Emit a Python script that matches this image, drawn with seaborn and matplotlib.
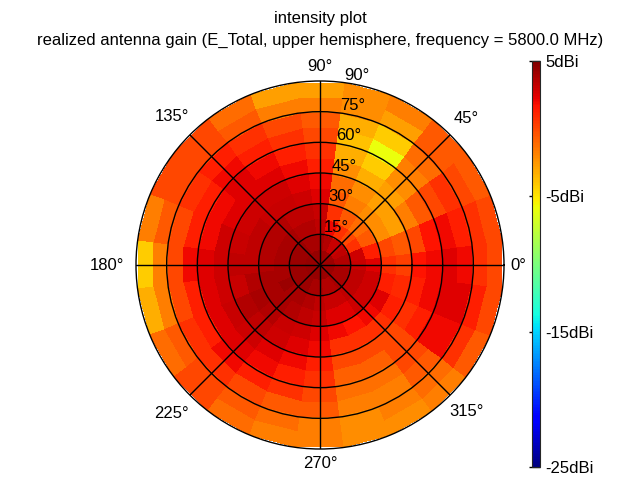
import numpy as np
import matplotlib
matplotlib.use("Agg")
import matplotlib.pyplot as plt
import seaborn as sns

# azimuth (phi) cell centres in degrees, polar angle (theta) ring edges in degrees
phi_deg = [0, 15, 30, 45, 60, 75, 90, 105, 120, 135, 150, 165,
           180, 195, 210, 225, 240, 255, 270, 285, 300, 315, 330, 345]
theta_edges = [0, 7.5, 15, 22.5, 30, 37.5, 45, 52.5, 60, 67.5, 75, 82.5, 90]

# realized gain in dBi, one list per theta ring (inner -> outer), values per phi
ring_00 = [4.2, 4.2, 4.1, 4.1, 4.1, 4.2, 4.3, 4.3, 4.4, 4.4, 4.4, 4.4, 4.4, 4.4, 4.4, 4.4, 4.4, 4.3, 4.3, 4.3, 4.2, 4.2, 4.2, 4.2]
ring_01 = [3.6, 3.6, 3.3, 3.1, 3.1, 3.6, 3.9, 3.9, 3.9, 4.2, 4.2, 4.2, 4.2, 4.2, 4.2, 4.2, 4.2, 3.9, 3.9, 3.6, 3.6, 3.9, 3.9, 3.9]
ring_02 = [3.1, 2.9, 0.7, 0.0, 0.7, 2.0, 3.3, 3.6, 3.6, 3.9, 3.9, 3.9, 3.9, 3.9, 4.2, 3.9, 3.9, 3.6, 3.3, 3.1, 3.1, 3.3, 3.3, 3.3]
ring_03 = [2.5, 1.3, -0.6, -1.1, -0.6, 0.7, 3.1, 3.3, 3.3, 3.6, 3.6, 3.6, 3.6, 3.9, 3.9, 3.9, 3.6, 3.3, 3.1, 2.5, 2.5, 2.9, 2.9, 2.9]
ring_04 = [0.7, 0.0, -2.2, -2.2, -1.7, -0.6, 2.5, 2.9, 3.1, 3.1, 3.3, 3.3, 3.3, 3.6, 3.9, 3.6, 3.1, 2.9, 2.5, 2.0, 1.7, 2.0, 2.5, 1.3]
ring_05 = [0.3, -0.6, -2.8, -2.8, -2.2, -1.1, 2.0, 2.5, 2.9, 2.9, 2.9, 3.1, 3.3, 3.1, 3.6, 3.3, 2.9, 2.5, 2.0, 0.7, 0.7, 0.7, 1.3, 0.9]
ring_06 = [1.7, 0.0, -1.7, -2.8, -3.3, -2.2, 1.3, 2.0, 2.5, 2.5, 2.5, 2.9, 2.9, 2.9, 3.1, 2.9, 2.5, 2.0, 1.3, 0.0, 0.0, 0.0, 0.7, 1.3]
ring_07 = [2.0, 1.7, -0.6, -2.2, -4.2, -3.3, 0.7, 1.3, 2.0, 2.5, 2.0, 2.0, 2.5, 2.5, 2.5, 2.5, 2.0, 1.3, 0.7, -0.8, -0.8, 0.0, 1.3, 2.0]
ring_08 = [2.5, 2.0, 0.0, -1.7, -6.0, -3.8, 0.0, 0.7, 1.3, 2.0, 1.3, 1.3, 2.0, 1.3, 1.3, 2.0, 1.3, 0.7, 0.0, -1.3, -1.3, 0.0, 2.0, 2.5]
ring_09 = [2.0, 1.3, 0.7, -1.1, -4.2, -3.3, -0.6, 0.0, 0.7, 1.3, 0.7, 0.0, 0.0, 0.0, 0.7, 0.7, 0.0, -0.6, -0.6, -1.7, -1.7, -0.6, 2.0, 2.5]
ring_10 = [0.7, 0.7, 0.0, -0.6, -2.8, -2.2, -1.7, -1.7, -0.6, 0.0, 0.0, -0.6, -1.7, -1.7, -0.6, 0.0, -0.6, -1.1, -1.7, -2.2, -1.7, -1.1, 0.7, 1.3]
ring_11 = [0.0, 0.0, -0.6, -0.6, -1.7, -2.2, -2.8, -2.8, -1.1, 0.0, 0.0, -1.7, -4.2, -3.3, -1.1, 0.0, -1.1, -1.7, -1.7, -2.2, -2.2, -1.7, -0.6, 0.0]

cbar_ticks = [5, -5, -15, -25]
radial_ticks = [15, 30, 45, 60, 75, 90]
angle_ticks = [0, 45, 90, 135, 180, 225, 270, 315]

gain = np.array([ring_00, ring_01, ring_02, ring_03, ring_04, ring_05,
                 ring_06, ring_07, ring_08, ring_09, ring_10, ring_11])

sns.set_style("white")
plt.rcParams["font.family"] = ["Liberation Sans", "DejaVu Sans"]
plt.rcParams["font.size"] = 12
plt.rcParams["text.color"] = "black"
plt.rcParams["xtick.color"] = "black"
plt.rcParams["ytick.color"] = "black"

step = phi_deg[1] - phi_deg[0]
phi_edges = np.radians(np.append(np.array(phi_deg) - step / 2, phi_deg[-1] + step / 2))
cmap = matplotlib.colormaps["jet"]

fig = plt.figure(figsize=(6.33, 4.8), dpi=100)
ax = fig.add_axes([136 / 633, 31 / 480, 368 / 633, 368 / 480], projection="polar")
mesh = ax.pcolormesh(phi_edges, theta_edges, gain, cmap=cmap, vmin=-25, vmax=5,
                     shading="flat")
ax.set_axisbelow(False)
ax.set_ylim(0, 90)
ax.set_yticks(radial_ticks[:-1])
ax.set_yticklabels([])
ax.set_xticks(np.radians(angle_ticks))
ax.set_xticklabels([])
ax.grid(True, color="black", linewidth=1.0)
ax.spines["polar"].set_color("black")
ax.spines["polar"].set_linewidth(1.0)

# angle labels sit just outside the rim (label-centre radius in data units)
label_r = {0: 96.8, 45: 101.0, 90: 97.3, 135: 102.7,
           180: 104.4, 225: 102.7, 270: 97.0, 315: 101.3}
for a in angle_ticks:
    ax.text(np.radians(a), label_r[a], f"{a}°", ha="center", va="center",
            clip_on=False)
for r in radial_ticks:
    ax.text(np.radians(82.5), r, f"{r}°", ha="left", va="bottom")

fig.text(320 / 633, 1 - 18 / 480, "intensity plot", ha="center", va="center")
fig.text(320 / 633, 1 - 40 / 480,
         "realized antenna gain (E_Total, upper hemisphere, frequency = 5800.0 MHz)",
         ha="center", va="center")

cax = fig.add_axes([532 / 633, 13 / 480, 8 / 633, 406 / 480])
cb = fig.colorbar(mesh, cax=cax, ticks=cbar_ticks)
cb.ax.set_yticklabels([f"{t}dBi" for t in cbar_ticks])
cb.ax.yaxis.set_minor_locator(matplotlib.ticker.MultipleLocator(1))
cb.ax.tick_params(which="major", direction="in", length=8, width=1, pad=4)
cb.ax.tick_params(which="minor", direction="in", length=1.5, width=0.8)
cb.outline.set_linewidth(0.8)

fig.savefig("out.png", dpi=100)
